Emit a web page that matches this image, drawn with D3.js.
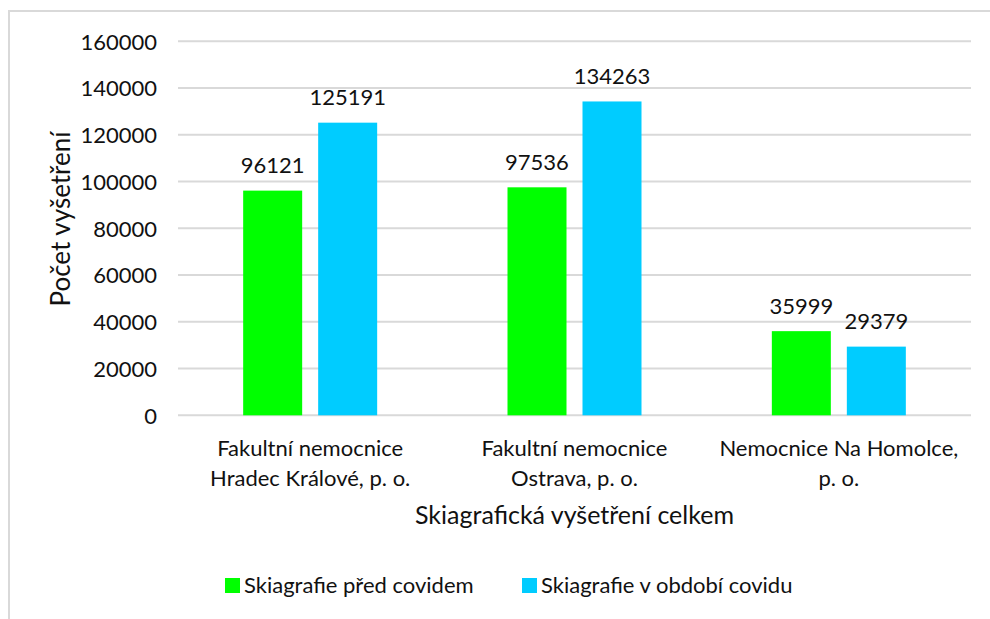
<!DOCTYPE html>
<html>
<head>
<meta charset="utf-8">
<script src="https://cdn.jsdelivr.net/npm/d3@7"></script>
<style>
  body { margin: 0; background: #fff; }
  text { font-family: Lato, "Open Sans", sans-serif; fill: #111; }
</style>
</head>
<body>
<div id="chart"></div>
<script>
// data
var categories = [
  ['Fakultní nemocnice', 'Hradec Králové, p. o.'],
  ['Fakultní nemocnice', 'Ostrava, p. o.'],
  ['Nemocnice Na Homolce,', 'p. o.']
];
var seriesNames = ['Skiagrafie před covidem', 'Skiagrafie v období covidu'];
var seriesColors = ['#00ff00', '#00ccff'];
var beforeCovid = [96121, 97536, 35999];
var duringCovid = [125191, 134263, 29379];
var yTicks = [0, 20000, 40000, 60000, 80000, 100000, 120000, 140000, 160000];

var svgWidth = 990,
	svgHeight = 619;

var plot = { l: 178, r: 971, t: 41.3, b: 415.3 };

var svg = d3.select('#chart')
	.append('svg')
	.attr('width', svgWidth)
	.attr('height', svgHeight);

// outer chart frame (cut off right/bottom in the original)
svg.append('rect')
	.attr('x', 9)
	.attr('y', 11)
	.attr('width', 1000)
	.attr('height', 700)
	.attr('fill', 'none')
	.attr('stroke', '#d9d9d9')
	.attr('stroke-width', 2);

var x0 = d3.scaleBand()
	.domain(d3.range(categories.length))
	.range([plot.l, plot.r]);

var groupW = 134;
var x1 = d3.scaleBand()
	.domain(d3.range(seriesNames.length))
	.range([x0.bandwidth() / 2 - groupW / 2, x0.bandwidth() / 2 + groupW / 2])
	.paddingInner(16 / 75);

var yScale = d3.scaleLinear()
	.domain([0, 160000])
	.range([plot.b, plot.t]);

// gridlines
svg.append('g').selectAll('line')
	.data(yTicks)
	.enter()
	.append('line')
	.attr('x1', plot.l)
	.attr('x2', plot.r)
	.attr('y1', d => yScale(d))
	.attr('y2', d => yScale(d))
	.attr('stroke', '#d9d9d9')
	.attr('stroke-width', 2);

// y axis labels, no axis line
var yAxis = d3.axisLeft(yScale)
	.tickValues(yTicks)
	.tickFormat(d3.format('d'))
	.tickSize(0)
	.tickPadding(0);

var yAxisG = svg.append('g')
	.attr('transform', `translate(157,0)`)
	.call(yAxis);
yAxisG.select('.domain').remove();
yAxisG.selectAll('text')
	.attr('font-size', 22)
	.attr('dy', '0.35em')
	.style('font-family', 'Lato, sans-serif')
	.attr('fill', '#111');

// bars
var rows = categories.map((c, i) => [beforeCovid[i], duringCovid[i]]);

var groups = svg.append('g').selectAll('g')
	.data(rows)
	.enter()
	.append('g')
	.attr('transform', (d, i) => `translate(${x0(i)},0)`);

groups.selectAll('rect')
	.data(d => d)
	.enter()
	.append('rect')
	.attr('x', (d, j) => x1(j))
	.attr('y', d => yScale(d))
	.attr('width', x1.bandwidth())
	.attr('height', d => plot.b - yScale(d))
	.attr('fill', (d, j) => seriesColors[j]);

groups.selectAll('text')
	.data(d => d)
	.enter()
	.append('text')
	.attr('x', (d, j) => x1(j) + x1.bandwidth() / 2)
	.attr('y', d => yScale(d) - 17.5)
	.attr('text-anchor', 'middle')
	.attr('font-size', 22)
	.text(d => d);

// category labels
var catLabels = svg.append('g').selectAll('text')
	.data(categories)
	.enter()
	.append('text')
	.attr('text-anchor', 'middle')
	.attr('font-size', 22)
	.attr('x', (d, i) => x0(i) + x0.bandwidth() / 2)
	.attr('y', 455.5);

catLabels.selectAll('tspan')
	.data(d => d)
	.enter()
	.append('tspan')
	.attr('x', function() { return d3.select(this.parentNode).attr('x'); })
	.attr('dy', (d, i) => i === 0 ? 0 : 30)
	.text(d => d);

// axis titles
svg.append('text')
	.attr('x', (plot.l + plot.r) / 2)
	.attr('y', 524)
	.attr('text-anchor', 'middle')
	.attr('font-size', 25)
	.text('Skiagrafická vyšetření celkem');

svg.append('text')
	.attr('transform', `translate(70,219)rotate(-90)`)
	.attr('text-anchor', 'middle')
	.attr('font-size', 26)
	.text('Počet vyšetření');

// legend
var legendX = [225, 522];
var legend = svg.append('g').selectAll('g')
	.data(seriesNames)
	.enter()
	.append('g')
	.attr('transform', (d, i) => `translate(${legendX[i]},578)`);

legend.append('rect')
	.attr('width', 15)
	.attr('height', 15)
	.attr('fill', (d, i) => seriesColors[i]);

legend.append('text')
	.attr('x', 19)
	.attr('y', 15)
	.attr('font-size', 22)
	.text(d => d);
</script>
</body>
</html>
